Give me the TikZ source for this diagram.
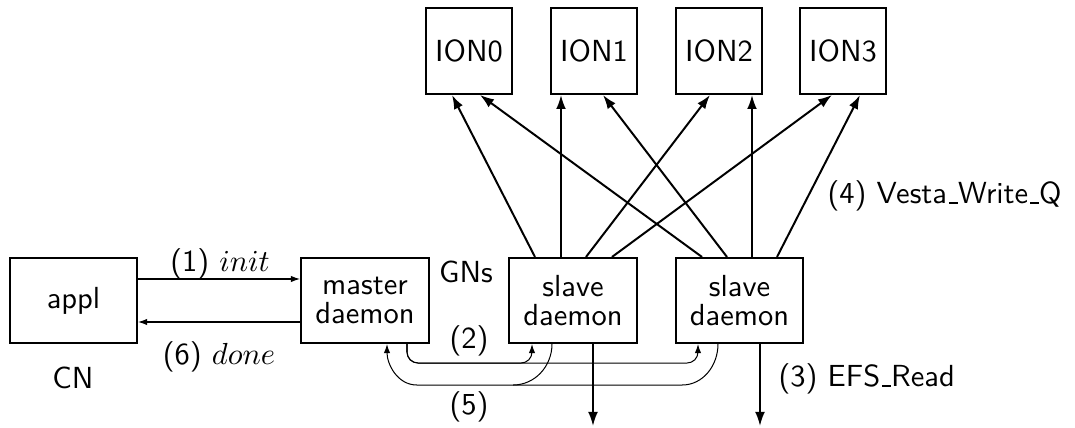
\documentclass[tikz,border=0pt]{standalone}
\usetikzlibrary{calc,arrows.meta}
\newcommand\usc{\leavevmode\kern.06em\vbox{\hrule width.3em}}
\begin{document}
\begin{tikzpicture}[x=0.328pt,y=-0.328pt,
  every node/.style={font=\sffamily\fontsize{10}{9.5}\selectfont},
  box/.style={draw,line width=0.65pt,inner sep=0pt,align=center,minimum height=27.9pt},
  wbox/.style={box,minimum width=42pt},
  ionbox/.style={box,minimum width=28.2pt,minimum height=28.2pt},
  lbl/.style={inner sep=0pt},
  thickarr/.style={line width=0.65pt,-{Latex[length=4.6pt,width=3.2pt]}},
  thinarr/.style={line width=0.33pt,-{Latex[length=3pt,width=2.1pt]}},
  thinline/.style={line width=0.33pt}]
\useasboundingbox (0,0) rectangle (1075,428);

% boxes
\node[wbox,minimum width=41.7pt] (appl) at (73.5,300.5) {appl};
\node[wbox] (master) at (365,300.5) {master\\daemon};
\node[wbox] (s1) at (573,300.5) {slave\\daemon};
\node[wbox,minimum width=41.7pt] (s2) at (739.5,300.5) {slave\\daemon};
\node[ionbox] (ion0) at (469,51) {ION0};
\node[ionbox] (ion1) at (594,51) {ION1};
\node[ionbox] (ion2) at (719,51) {ION2};
\node[ionbox] (ion3) at (843,51) {ION3};

% labels
\node[lbl] (l1) at (220,264) {(1) $init$};
\node[lbl] (l6) at (219,357) {(6) $done$};
\node[lbl] (cn) at (73,378) {CN};
\node[lbl] (gn) at (466,272) {GNs};
\node[lbl] (l2) at (469,341) {(2)};
\node[lbl] (l5) at (469,407) {(5)};
\node[lbl,anchor=west] (l3) at (778,379) {(3) EFS\usc Read};
\node[lbl,anchor=west] (l4) at (827,196) {(4) Vesta\usc Write\usc Q};

% (1) and (6)
\draw[thinarr] ($(appl.east)+(0,-21.5)$) -- ($(master.west)+(0,-21.5)$);
\draw[thinarr] ($(master.west)+(0,21.5)$) -- ($(appl.east)+(0,21.5)$);

% (2)
\coordinate (m2) at ($(master.south)+(42,0)$);
\coordinate (s1in) at ($(s1.south)+(-41,0)$);
\coordinate (s2in) at ($(s2.south)+(-41.5,0)$);
\draw[thinarr,rounded corners=3.6pt] (m2) -- ++(0,19) -| (s1in);
\draw[thinarr,rounded corners=3.6pt] (m2) -- ++(0,19) -| (s2in);

% (5)
\coordinate (m5) at ($(master.south)+(22,0)$);
\coordinate (s1out) at ($(s1.south)+(-21,0)$);
\coordinate (s2out) at ($(s2.south)+(-21.5,0)$);
\draw[thinarr] (s1out) to[out=-90,in=0] ++(-39,41) -- ($(m5)+(30,41)$) to[out=180,in=-90] (m5);
\draw[thinline] (s2out) to[out=-90,in=0] ++(-36,41) -- ($(s1out)+(-39,41)$);

% (3)
\draw[thickarr] ($(s1.south)+(20,0)$) -- ++(0,82);
\draw[thickarr] ($(s2.south)+(20.5,0)$) -- ++(0,82);

% (4)
\draw[thickarr] ($(s1.north)+(-38,0)$) -- ($(ion0.south)+(-17,0)$);
\draw[thickarr] ($(s1.north)+(-12,0)$) -- ($(ion1.south)+(-33,0)$);
\draw[thickarr] ($(s1.north)+(13,0)$) -- ($(ion2.south)+(-9,0)$);
\draw[thickarr] ($(s1.north)+(39,0)$) -- ($(ion3.south)+(-11,0)$);
\draw[thickarr] ($(s2.north)+(-37.5,0)$) -- ($(ion0.south)+(11,0)$);
\draw[thickarr] ($(s2.north)+(-12.5,0)$) -- ($(ion1.south)+(9,0)$);
\draw[thickarr] ($(s2.north)+(12.5,0)$) -- ($(ion2.south)+(33,0)$);
\draw[thickarr] ($(s2.north)+(37.5,0)$) -- ($(ion3.south)+(17,0)$);
\end{tikzpicture}
\end{document}
